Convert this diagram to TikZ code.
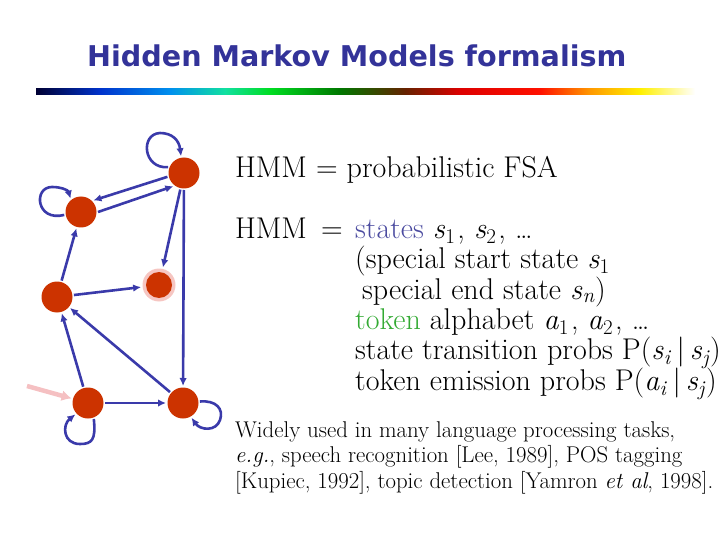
\documentclass[tikz,border=0pt]{standalone}
\usepackage{fontspec}
\usetikzlibrary{arrows.meta}
\newfontfamily\titlefont{DejaVu Sans}
\definecolor{nodered}{HTML}{CC3300}
\definecolor{edgeblue}{HTML}{3A3AAA}
\definecolor{titleblue}{HTML}{333399}
\definecolor{statesblue}{HTML}{4B4BA0}
\definecolor{tokengreen}{HTML}{33AA33}
\definecolor{halo}{HTML}{F6C6C2}
\definecolor{startpink}{HTML}{F5C0C2}
\definecolor{g0}{HTML}{000033}
\definecolor{g1}{HTML}{0033CC}
\definecolor{g2}{HTML}{0090EE}
\definecolor{g3}{HTML}{11E0A0}
\definecolor{g4}{HTML}{00DD22}
\definecolor{g5}{HTML}{007700}
\definecolor{g6}{HTML}{662200}
\definecolor{g7}{HTML}{DD0000}
\definecolor{g8}{HTML}{FF1100}
\definecolor{g9}{HTML}{FF9900}
\definecolor{g10}{HTML}{FFF000}
\newcommand{\vs}[1]{\textit{#1}}
\newcommand{\mysub}[1]{\textsubscript{#1}\kern2pt}
\begin{document}
\begin{tikzpicture}[x=1pt,y=-1pt,
  state/.style={circle,fill=nodered,minimum size=31pt,inner sep=0pt,outer sep=1.5pt},
  edge/.style={draw=edgeblue,line width=2.6pt,-{Latex[length=8pt,width=7.5pt]}},
  startarrow/.style={draw=startpink,line width=4.5pt,-{Latex[length=10pt,width=11pt]}},
  body/.style={anchor=base west,inner sep=0pt,font=\fontsize{30}{31}\selectfont},
  para/.style={anchor=base west,inner sep=0pt,font=\fontsize{22.8}{24}\selectfont}]
\useasboundingbox (0,0) rectangle (720,540);
% title
\node[anchor=base west,inner sep=0pt,text=titleblue,
      font=\titlefont\bfseries\fontsize{28.6}{30}\selectfont] (title) at (87,67)
      {Hidden Markov Models formalism};
% gradient bar
\shade[left color=g0,right color=g1] (36,89) rectangle (100.3,95);
\shade[left color=g1,right color=g2] (100,89) rectangle (170.3,95);
\shade[left color=g2,right color=g3] (170,89) rectangle (225.3,95);
\shade[left color=g3,right color=g4] (225,89) rectangle (270.3,95);
\shade[left color=g4,right color=g5] (270,89) rectangle (340.3,95);
\shade[left color=g5,right color=g6] (340,89) rectangle (405.3,95);
\shade[left color=g6,right color=g7] (405,89) rectangle (460.3,95);
\shade[left color=g7,right color=g8] (460,89) rectangle (540.3,95);
\shade[left color=g8,right color=g9] (540,89) rectangle (590.3,95);
\shade[left color=g9,right color=g10] (590,89) rectangle (640.3,95);
\shade[left color=g10,right color=white] (640,89) rectangle (695,95);
% states
\node[state] (A) at (184,173) {};
\node[state] (B) at (81,212) {};
\node[state] (C) at (57,297) {};
\node[circle,fill=halo,minimum size=33pt,inner sep=0pt,outer sep=1.5pt] (Dh) at (159,285) {};
\node[state,minimum size=26pt] (D) at (159,285) {};
\node[state] (E) at (88,403) {};
\node[state] (F) at (183,403) {};
\coordinate (start) at (27,386);
% transitions
\draw[edge] (A.193) -- (B.43);
\draw[edge] (B.0) -- (A.231);
\draw[edge] (A) -- (Dh);
\draw[edge] (A) -- (F);
\draw[edge] (C) -- (B);
\draw[edge] (C) -- (Dh);
\draw[edge] (E) -- (C);
\draw[edge] (F) -- (C);
\draw[edge] (E) -- (F);
\draw[startarrow] (start) -- (E);
% self loops
\draw[edge] (A.160) .. controls (143,169) and (140,134) .. (160,133)
            .. controls (172,133) and (179,140) .. (A.100);
\draw[edge] (B.190) .. controls (36,222) and (33,187) .. (52,187)
            .. controls (61,187) and (68,190) .. (B.128);
\draw[edge] (E.290) .. controls (96,440) and (92,444) .. (80,444)
            .. controls (63,444) and (62,425) .. (E.222);
\draw[edge] (F.5) .. controls (216,400) and (224,409) .. (220,420)
            .. controls (216,432) and (200,430) .. (F.300);
% text
\node[body] (l1) at (235,178) {HMM = probabilistic FSA};
\node[body] (l2) at (235,238) {HMM\, =};
\node[body] (l2b) at (355,238) {\textcolor{statesblue}{states} \vs{s}\mysub{1}, \vs{s}\mysub{2}, \ldots};
\node[body] (l3) at (355,268) {(special start state \vs{s}\textsubscript{1}};
\node[body] (l4) at (362,299) {special end state \vs{s}\textsubscript{\vs{n}})};
\node[body] (l5) at (355,329) {\textcolor{tokengreen}{token} alphabet \vs{a}\mysub{1}, \vs{a}\mysub{2}, \ldots};
\node[body] (l6) at (355,359) {state transition probs P(\vs{s}\textsubscript{\vs{i}}\,|\,\vs{s}\textsubscript{\vs{j}})};
\node[body] (l7) at (355,390) {token emission probs P(\vs{a}\textsubscript{\vs{i}}\,|\,\vs{s}\textsubscript{\vs{j}})};
\node[para] (p1) at (235,437) {Widely used in many language processing tasks,};
\node[para] (p2) at (235,462) {\textit{e.g.}, speech recognition [Lee, 1989], POS tagging};
\node[para] (p3) at (235,488) {[Kupiec, 1992], topic detection [Yamron \textit{et al}, 1998].};
\end{tikzpicture}
\end{document}
